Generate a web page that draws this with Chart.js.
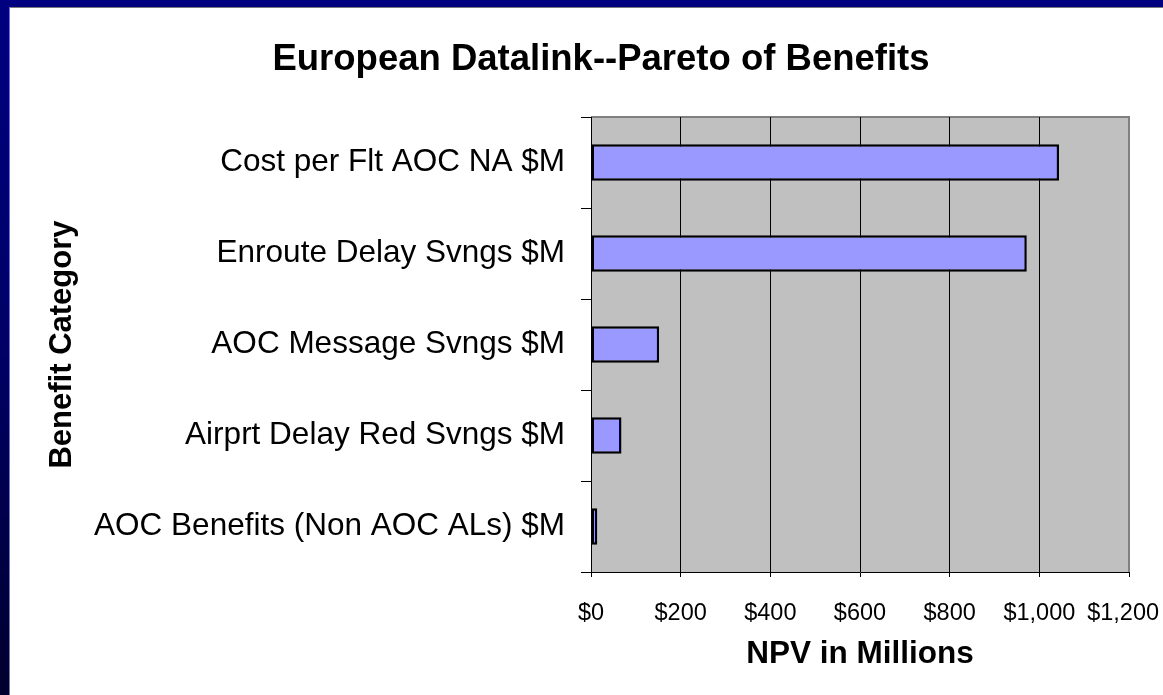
<!DOCTYPE html>
<html>
<head>
<meta charset="utf-8">
<script src="https://cdn.jsdelivr.net/npm/chart.js@4/dist/chart.umd.min.js"></script>
<style>
  html, body { margin: 0; padding: 0; }
  body {
    width: 1163px; height: 695px; overflow: hidden; position: relative;
    background: linear-gradient(to bottom, #000080 0%, #000066 50%, #00002e 100%);
  }
  #panel {
    position: absolute; left: 9px; top: 7px; width: 1154px; height: 688px;
    box-sizing: border-box; background: #fff;
    border-left: 1px solid #7a7a7a; border-top: 1px solid #7a7a7a;
  }
  canvas { display: block; }
</style>
</head>
<body>
<div id="panel"><canvas id="chart" width="1153" height="687"></canvas></div>
<script>
const chartTitle = 'European Datalink--Pareto of Benefits';
const categories = [
  'Cost per Flt AOC NA $M',
  'Enroute Delay Svngs $M',
  'AOC Message Svngs $M',
  'Airprt Delay Red Svngs $M',
  'AOC Benefits (Non AOC ALs) $M'
];
const npvValues = [1044, 972, 152, 68, 14];
const xTickLabels = ['$0', '$200', '$400', '$600', '$800', '$1,000', '$1,200'];
const xAxisTitle = 'NPV in Millions';
const yAxisTitle = 'Benefit Category';

const FONT = "'Liberation Sans', Arial, Helvetica, sans-serif";

// grey plot area with a thin grey frame on top and right
const plotBackground = {
  id: 'plotBackground',
  beforeDraw(chart) {
    const { ctx, chartArea: a } = chart;
    ctx.save();
    ctx.fillStyle = '#c0c0c0';
    ctx.fillRect(a.left, a.top, a.right - a.left, a.bottom - a.top);
    ctx.strokeStyle = '#808080';
    ctx.lineWidth = 2;
    ctx.beginPath();
    ctx.moveTo(a.left, a.top);
    ctx.lineTo(a.right, a.top);
    ctx.lineTo(a.right, a.bottom);
    ctx.stroke();
    ctx.restore();
  }
};

// chart heading, centred over the labels + plot block
const heading = {
  id: 'heading',
  afterDraw(chart) {
    const { ctx } = chart;
    ctx.save();
    ctx.fillStyle = '#000';
    ctx.font = 'bold 36.5px ' + FONT;
    ctx.textAlign = 'center';
    ctx.textBaseline = 'middle';
    ctx.fillText(chartTitle, 591, 52);
    ctx.restore();
  }
};

new Chart(document.getElementById('chart'), {
  type: 'bar',
  data: {
    labels: categories,
    datasets: [{
      data: npvValues,
      backgroundColor: '#9999ff',
      borderColor: '#000',
      borderWidth: 2.5,
      borderSkipped: false,
      barPercentage: 0.4,
      categoryPercentage: 1
    }]
  },
  options: {
    indexAxis: 'y',
    responsive: false,
    animation: false,
    devicePixelRatio: 1,
    layout: { padding: { left: 0, right: 34, top: 109, bottom: 0 } },
    plugins: {
      legend: { display: false },
      tooltip: { enabled: false },
      title: { display: false }
    },
    scales: {
      x: {
        min: 0,
        max: 1200,
        ticks: {
          stepSize: 200,
          autoSkip: false,
          maxRotation: 0,
          padding: 22,
          color: '#000',
          font: { family: FONT, size: 23.5 },
          // nudge the last label inward so it stays inside the canvas
          callback: (v, i) => (i === xTickLabels.length - 1 ? xTickLabels[i] + '\u2002' : xTickLabels[i])
        },
        grid: {
          color: (c) => (c.index === xTickLabels.length - 1 ? '#808080' : '#000'),
          tickColor: '#000',
          tickLength: 5,
          lineWidth: 1
        },
        border: { display: true, color: '#000', width: 1 },
        title: {
          display: true,
          text: xAxisTitle,
          color: '#000',
          font: { family: FONT, size: 31.5, weight: 'bold' },
          padding: { top: 0, bottom: 22 }
        },
        afterFit(s) {
          s.height = 123;
          // the last tick label may hang past the plot edge
          s.paddingLeft = 0;
          s.paddingRight = 0;
        }
      },
      y: {
        offset: true,
        grid: {
          offset: true,
          drawOnChartArea: false,
          drawTicks: true,
          tickLength: 10,
          tickColor: '#000',
          color: '#000'
        },
        border: { display: true, color: '#000', width: 1 },
        ticks: {
          color: '#000',
          padding: 16,
          autoSkip: false,
          font: { family: FONT, size: 31.5 }
        },
        title: {
          display: true,
          text: yAxisTitle,
          color: '#000',
          font: { family: FONT, size: 31, weight: 'bold' },
          padding: { top: 34, bottom: 0 }
        },
        afterFit(s) { s.width = 581; }
      }
    }
  },
  plugins: [plotBackground, heading]
});
</script>
</body>
</html>
